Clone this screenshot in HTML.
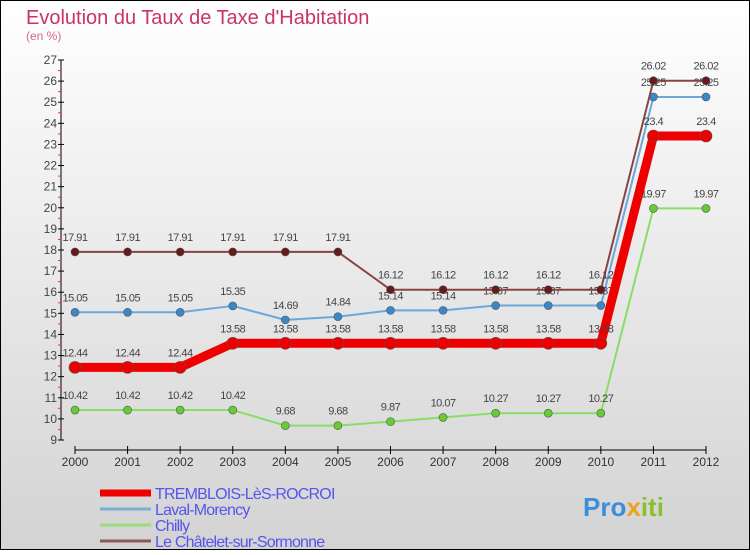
<!DOCTYPE html>
<html><head><meta charset="utf-8"><style>
html,body{margin:0;padding:0}
body{width:750px;height:550px;overflow:hidden;font-family:"Liberation Sans",sans-serif}
</style></head><body>
<svg id="chart" width="750" height="550" xmlns="http://www.w3.org/2000/svg">
<defs><linearGradient id="bg" x1="0" y1="0" x2="0" y2="1"><stop offset="0" stop-color="#ffffff"/><stop offset="1" stop-color="#d3d3d3"/></linearGradient></defs>
<rect x="0.5" y="0.5" width="749" height="549" fill="url(#bg)" stroke="#000" stroke-width="1"/>
<text x="26" y="24" font-size="20" fill="#c8336a">Evolution du Taux de Taxe d'Habitation</text>
<text x="26" y="40" font-size="12" fill="#d06890">(en %)</text>
<g id="axes"></g><g id="series"></g><g id="legend"></g>
<text x="583" y="516" font-size="26" font-weight="bold" fill="#3a8fd8">Pro<tspan fill="#f0a020">x</tspan><tspan fill="#88c030">iti</tspan></text>
</svg>
<script>
const years=[2000,2001,2002,2003,2004,2005,2006,2007,2008,2009,2010,2011,2012];
const yTicks=[9,10,11,12,13,14,15,16,17,18,19,20,21,22,23,24,25,26,27];
const tremblois=[12.44,12.44,12.44,13.58,13.58,13.58,13.58,13.58,13.58,13.58,13.58,23.4,23.4];
const laval=[15.05,15.05,15.05,15.35,14.69,14.84,15.14,15.14,15.37,15.37,15.37,25.25,25.25];
const chilly=[10.42,10.42,10.42,10.42,9.68,9.68,9.87,10.07,10.27,10.27,10.27,19.97,19.97];
const chatelet=[17.91,17.91,17.91,17.91,17.91,17.91,16.12,16.12,16.12,16.12,16.12,26.02,26.02];
const names=["TREMBLOIS-LèS-ROCROI","Laval-Morency","Chilly","Le Châtelet-sur-Sormonne"];
const NS="http://www.w3.org/2000/svg";
const X=i=>75+i*(706-75)/(years.length-1);
const Y=v=>440-(v-9)*(380/18);
function mk(t,a,p){const e=document.createElementNS(NS,t);for(const k in a)e.setAttribute(k,a[k]);p.appendChild(e);return e;}
const ax=document.getElementById('axes');
let l=mk('line',{x1:61,y1:Y(27),x2:61,y2:Y(9),stroke:'#000'},ax);


yTicks.forEach(v=>{
 mk('line',{x1:58,y1:Y(v),x2:64,y2:Y(v),stroke:'#000'},ax);
 if(v<27)mk('line',{x1:58,y1:Y(v+0.5),x2:61,y2:Y(v+0.5),stroke:'#e33'},ax);
 const t=mk('text',{x:57,y:Y(v)+4,'font-size':12,'text-anchor':'end',fill:'#444'},ax);
 t.textContent=v;
 
 
});
l=mk('line',{x1:X(0),y1:450,x2:X(12),y2:450,stroke:'#000'},ax);


years.forEach((yr,i)=>{
 mk('line',{x1:X(i),y1:446,x2:X(i),y2:454,stroke:'#000'},ax);
 const t=mk('text',{x:X(i),y:466,'font-size':12,'text-anchor':'middle',fill:'#333'},ax);
 t.textContent=yr;
 
 
});
const sg=document.getElementById('series');
const defs=[[chilly,'#88dd66','#66cc33',2,4,'chilly'],[laval,'#6aa8dd','#3a88cc',2,4,'laval-morency'],[chatelet,'#884444','#661a1a',2,4,'le-chatelet-sur-sormonne'],[tremblois,'#ee0000','#ee0000',9,6,'tremblois-les-rocroi']];
defs.forEach(([d,c,dc,w,r,n])=>{
 const g=mk('g',{},sg);
 
 
 const pl=mk('polyline',{points:d.map((v,i)=>X(i)+','+Y(v)).join(' '),fill:'none',stroke:c,'stroke-width':w,'stroke-linejoin':'round'},g);
 
 
 d.forEach((v,i)=>{
  const p=mk('circle',{cx:X(i),cy:Y(v),r:r,fill:dc,stroke:'#555','stroke-width':0.6},g);
  
  
  const t=mk('text',{x:X(i),y:Y(v)-11,'font-size':11,'text-anchor':'middle',fill:'#444','letter-spacing':'-0.5'},g);
  t.textContent=v;
  
  
 });
});
const lg=document.getElementById('legend');
const lc=[['#ee0000',7],['#7aaed6',3],['#99dd77',3],['#8a5a5a',3]];
names.forEach((n,i)=>{
 const y=493+i*16;
 const g=mk('g',{},lg);
 
 
 mk('line',{x1:100,y1:y,x2:151,y2:y,stroke:lc[i][0],'stroke-width':lc[i][1]},g);
 const t=mk('text',{x:155,y:y+6,'font-size':16,fill:'#5555ee','letter-spacing':'-0.8'},g);
 t.textContent=n;
});
</script>
</body></html>
